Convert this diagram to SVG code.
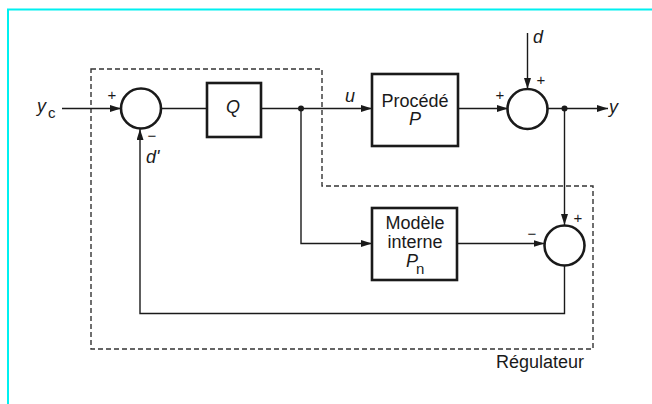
<svg xmlns="http://www.w3.org/2000/svg" width="652" height="404" viewBox="0 0 652 404">
  <style>
    .frame { fill: none; stroke: #00f0f0; stroke-width: 2; }
    .blk { fill: #fff; stroke: #1a1a1a; stroke-width: 2.6; }
    .sum { fill: #fff; stroke: #1a1a1a; stroke-width: 2.6; }
    .wire { fill: none; stroke: #1a1a1a; stroke-width: 1.4; }
    .arr { marker-end: url(#head); }
    .zone { fill: none; stroke: #333; stroke-width: 1.4; stroke-dasharray: 5 3; }
    .t { font-family: "Liberation Sans", Arial, sans-serif; fill: #1a1a1a; }
    .lbl { font-size: 18px; }
    .it { font-style: italic; }
    .sub { font-style: normal; font-size: 15px; }
    .sg { font-size: 15px; }
  </style>
  <defs>
    <marker id="head" markerUnits="userSpaceOnUse" markerWidth="12" markerHeight="8" refX="11" refY="3.5" orient="auto">
      <path d="M0,0 L11,3.5 L0,7 z" fill="#1a1a1a"/>
    </marker>
  </defs>

  <!-- page frame -->
  <path class="frame" d="M8,404 V9.5 H652"/>

  <!-- controller boundary -->
  <g id="regulateur">
    <path class="zone" d="M91,69 H322 V186 H593 V349 H91 Z"/>
    <text class="t lbl" x="496" y="368">Régulateur</text>
  </g>

  <!-- connectors -->
  <g id="connectors">
    <path class="wire arr" d="M62,108.5 H121"/>
    <path class="wire" d="M161,108.5 H207"/>
    <path class="wire arr" d="M261,108.5 H372"/>
    <path class="wire arr" d="M458,108.5 H508"/>
    <path class="wire arr" d="M548,108.5 H608"/>
    <path class="wire arr" d="M527.5,33 V89"/>
    <path class="wire arr" d="M564.5,108.5 V225"/>
    <path class="wire arr" d="M301,108.5 V243.5 H372"/>
    <path class="wire arr" d="M457,243.5 H544.5"/>
    <path class="wire arr" d="M564.5,265 V313.5 H140 V129"/>
    <circle cx="301" cy="108.5" r="3" fill="#1a1a1a"/>
    <circle cx="564.5" cy="108.5" r="3" fill="#1a1a1a"/>
  </g>

  <!-- signals -->
  <g id="signals">
    <text class="t lbl it" x="37" y="112">y<tspan class="sub" x="48" y="118">c</tspan></text>
    <text class="t lbl it" x="345" y="102">u</text>
    <text class="t lbl it" x="533" y="43">d</text>
    <text class="t lbl it" x="609" y="113">y</text>
    <text class="t lbl it" x="146" y="163">d'</text>
  </g>

  <!-- first comparator -->
  <g id="sum1">
    <circle class="sum" cx="141" cy="108.5" r="20"/>
    <text class="t sg" x="112" y="100" text-anchor="middle">+</text>
    <text class="t sg" x="152" y="141" text-anchor="middle">−</text>
  </g>

  <!-- Q block -->
  <g id="q">
    <rect class="blk" x="207" y="83" width="54" height="54"/>
    <text class="t lbl it" x="233" y="113" text-anchor="middle">Q</text>
  </g>

  <!-- process -->
  <g id="procede">
    <rect class="blk" x="372" y="74" width="86" height="72"/>
    <text class="t lbl" text-anchor="middle"><tspan x="415" y="107">Procédé</tspan><tspan class="it" x="415" y="125">P</tspan></text>
  </g>

  <!-- disturbance summer -->
  <g id="sum2">
    <circle class="sum" cx="527.5" cy="109" r="20"/>
    <text class="t sg" x="500" y="100" text-anchor="middle">+</text>
    <text class="t sg" x="541" y="85" text-anchor="middle">+</text>
  </g>

  <!-- internal model -->
  <g id="modele">
    <rect class="blk" x="372" y="208" width="85" height="72"/>
    <text class="t lbl"><tspan x="415" y="229" text-anchor="middle">Modèle</tspan><tspan x="415" y="248" text-anchor="middle">interne</tspan><tspan class="it" x="406" y="267">P</tspan><tspan class="sub" x="416" y="274">n</tspan></text>
  </g>

  <!-- model error summer -->
  <g id="sum3">
    <circle class="sum" cx="564.5" cy="245.5" r="20"/>
    <text class="t sg" x="578" y="223" text-anchor="middle">+</text>
    <text class="t sg" x="532" y="239" text-anchor="middle">−</text>
  </g>
</svg>
